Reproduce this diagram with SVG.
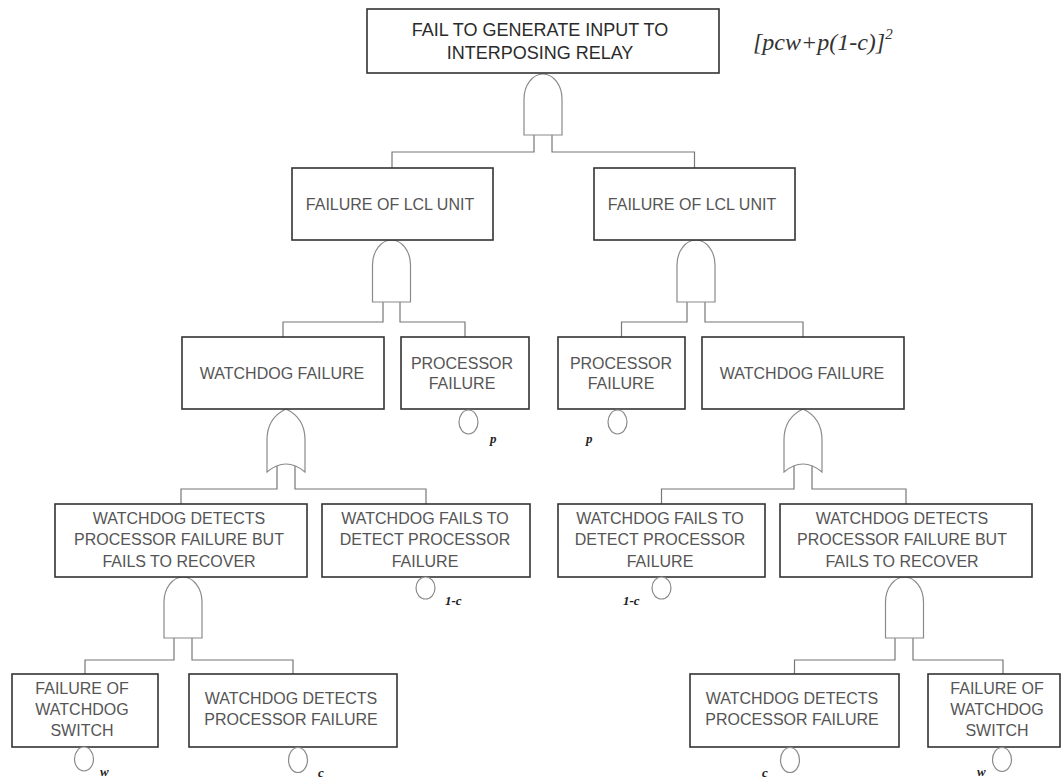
<svg xmlns="http://www.w3.org/2000/svg" width="1062" height="781" viewBox="0 0 1062 781">
<style>
.box{fill:#fff;stroke:#333;stroke-width:1.6}
.gate{fill:#fff;stroke:#8a8a8a;stroke-width:1.2}
.wire{fill:none;stroke:#777;stroke-width:1.2}
.ev{fill:#fff;stroke:#8a8a8a;stroke-width:1.2}
.lbl{font-family:"Liberation Sans",Arial,sans-serif;font-size:16px;fill:#555;text-anchor:middle}
.top{font-family:"Liberation Sans",Arial,sans-serif;font-size:18px;fill:#2a2a2a;text-anchor:middle}
.prob{font-family:"Liberation Serif","Times New Roman",serif;font-style:italic;font-weight:bold;font-size:13px;fill:#222}
.formula{font-family:"Liberation Serif","Times New Roman",serif;font-style:italic;font-size:24px;fill:#333}
</style>
<rect width="1062" height="781" fill="#fff"/>

<g id="connectors">
<path class="wire" d="M534,135 V152 H392 V168 M552,135 V152 H694.5 V168"/>
<path class="wire" d="M383,302 V322 H283 V337 M400,302 V322 H465 V337"/>
<path class="wire" d="M687,302 V322 H621.5 V337 M705,302 V322 H803 V337"/>
<path class="wire" d="M277,466 V489 H181 V504 M295,466 V489 H426 V504"/>
<path class="wire" d="M794,466 V489 H661.5 V504 M812,466 V489 H906 V504"/>
<path class="wire" d="M174,638 V660 H85 V674 M192,638 V660 H293 V674"/>
<path class="wire" d="M895,638 V660 H794.5 V674 M913,638 V660 H1003 V674"/>
</g>

<g id="gates">
<path id="gate-top" class="gate" d="M524,135 V99 A19,25 0 0 1 562,99 V135 Z"/>
<path id="gate-lcl-left" class="gate" d="M372.5,302 V265 A19,25 0 0 1 410.5,265 V302 Z"/>
<path id="gate-lcl-right" class="gate" d="M677,302 V265 A19,25 0 0 1 715,265 V302 Z"/>
<path id="gate-or-left" class="gate" d="M267,472 V440 Q267,418 286,409 Q305,418 305,440 V472 Q286,456 267,472 Z"/>
<path id="gate-or-right" class="gate" d="M784,472 V440 Q784,418 803,409 Q822,418 822,440 V472 Q803,456 784,472 Z"/>
<path id="gate-rec-left" class="gate" d="M164,638 V602 A19,25 0 0 1 202,602 V638 Z"/>
<path id="gate-rec-right" class="gate" d="M885.5,638 V602 A19,25 0 0 1 923.5,602 V638 Z"/>
</g>

<g id="n-top">
<rect class="box" x="367" y="9" width="352" height="64"/>
<text class="top" x="540" y="35.5">FAIL TO GENERATE INPUT TO</text>
<text class="top" x="540" y="58.5">INTERPOSING RELAY</text>
</g>
<text id="formula" class="formula" x="753" y="50">[pcw+p(1-c)]<tspan dy="-11" font-size="15">2</tspan></text>

<g id="n-lcl-left">
<rect class="box" x="292" y="168" width="201" height="72"/>
<text class="lbl" x="390" y="210">FAILURE OF LCL UNIT</text>
</g>
<g id="n-lcl-right">
<rect class="box" x="594" y="168" width="201" height="72"/>
<text class="lbl" x="692" y="210">FAILURE OF LCL UNIT</text>
</g>

<g id="n-wf-left">
<rect class="box" x="182" y="337" width="202" height="72"/>
<text class="lbl" x="282" y="378.5">WATCHDOG FAILURE</text>
</g>
<g id="n-pf-left">
<rect class="box" x="401" y="337" width="128" height="72"/>
<text class="lbl" x="462" y="369">PROCESSOR</text>
<text class="lbl" x="462" y="389">FAILURE</text>
<ellipse class="ev" cx="468.5" cy="422" rx="9.5" ry="12"/>
<text class="prob" x="490" y="443">p</text>
</g>
<g id="n-pf-right">
<rect class="box" x="558" y="337" width="127" height="72"/>
<text class="lbl" x="621" y="369">PROCESSOR</text>
<text class="lbl" x="621" y="389">FAILURE</text>
<ellipse class="ev" cx="617.5" cy="422" rx="9.5" ry="12"/>
<text class="prob" x="586" y="443">p</text>
</g>
<g id="n-wf-right">
<rect class="box" x="702" y="337" width="202" height="72"/>
<text class="lbl" x="802" y="378.5">WATCHDOG FAILURE</text>
</g>

<g id="n-dbf-left">
<rect class="box" x="55" y="504" width="252" height="73"/>
<text class="lbl" x="179" y="523.5">WATCHDOG DETECTS</text>
<text class="lbl" x="179" y="545">PROCESSOR FAILURE BUT</text>
<text class="lbl" x="179" y="566.5">FAILS TO RECOVER</text>
</g>
<g id="n-ftd-left">
<rect class="box" x="322" y="504" width="208" height="73"/>
<text class="lbl" x="425" y="523.5">WATCHDOG FAILS TO</text>
<text class="lbl" x="425" y="545">DETECT PROCESSOR</text>
<text class="lbl" x="425" y="566.5">FAILURE</text>
<ellipse class="ev" cx="425.5" cy="588" rx="9.5" ry="11"/>
<text class="prob" x="445" y="605">1-c</text>
</g>
<g id="n-ftd-right">
<rect class="box" x="558" y="504" width="207" height="73"/>
<text class="lbl" x="660" y="523.5">WATCHDOG FAILS TO</text>
<text class="lbl" x="660" y="545">DETECT PROCESSOR</text>
<text class="lbl" x="660" y="566.5">FAILURE</text>
<ellipse class="ev" cx="661.5" cy="588" rx="9.5" ry="11"/>
<text class="prob" x="623" y="605">1-c</text>
</g>
<g id="n-dbf-right">
<rect class="box" x="780" y="504" width="252" height="73"/>
<text class="lbl" x="902" y="523.5">WATCHDOG DETECTS</text>
<text class="lbl" x="902" y="545">PROCESSOR FAILURE BUT</text>
<text class="lbl" x="902" y="566.5">FAILS TO RECOVER</text>
</g>

<g id="n-sw-left">
<rect class="box" x="12" y="674" width="146" height="73"/>
<text class="lbl" x="82" y="693.5">FAILURE OF</text>
<text class="lbl" x="82" y="714.5">WATCHDOG</text>
<text class="lbl" x="82" y="735.5">SWITCH</text>
<ellipse class="ev" cx="84" cy="759" rx="9.5" ry="12"/>
<text class="prob" x="100" y="776">w</text>
</g>
<g id="n-det-left">
<rect class="box" x="189" y="674" width="208" height="73"/>
<text class="lbl" x="291" y="703.5">WATCHDOG DETECTS</text>
<text class="lbl" x="291" y="724.5">PROCESSOR FAILURE</text>
<ellipse class="ev" cx="298" cy="760" rx="9.5" ry="12.5"/>
<text class="prob" x="318" y="777">c</text>
</g>
<g id="n-det-right">
<rect class="box" x="690" y="674" width="209" height="73"/>
<text class="lbl" x="792" y="703.5">WATCHDOG DETECTS</text>
<text class="lbl" x="792" y="724.5">PROCESSOR FAILURE</text>
<ellipse class="ev" cx="790" cy="760" rx="9.5" ry="12.5"/>
<text class="prob" x="762" y="777">c</text>
</g>
<g id="n-sw-right">
<rect class="box" x="928" y="674" width="132" height="73"/>
<text class="lbl" x="997" y="693.5">FAILURE OF</text>
<text class="lbl" x="997" y="714.5">WATCHDOG</text>
<text class="lbl" x="997" y="735.5">SWITCH</text>
<ellipse class="ev" cx="1002" cy="759.5" rx="9.5" ry="12"/>
<text class="prob" x="977" y="776">w</text>
</g>
</svg>
